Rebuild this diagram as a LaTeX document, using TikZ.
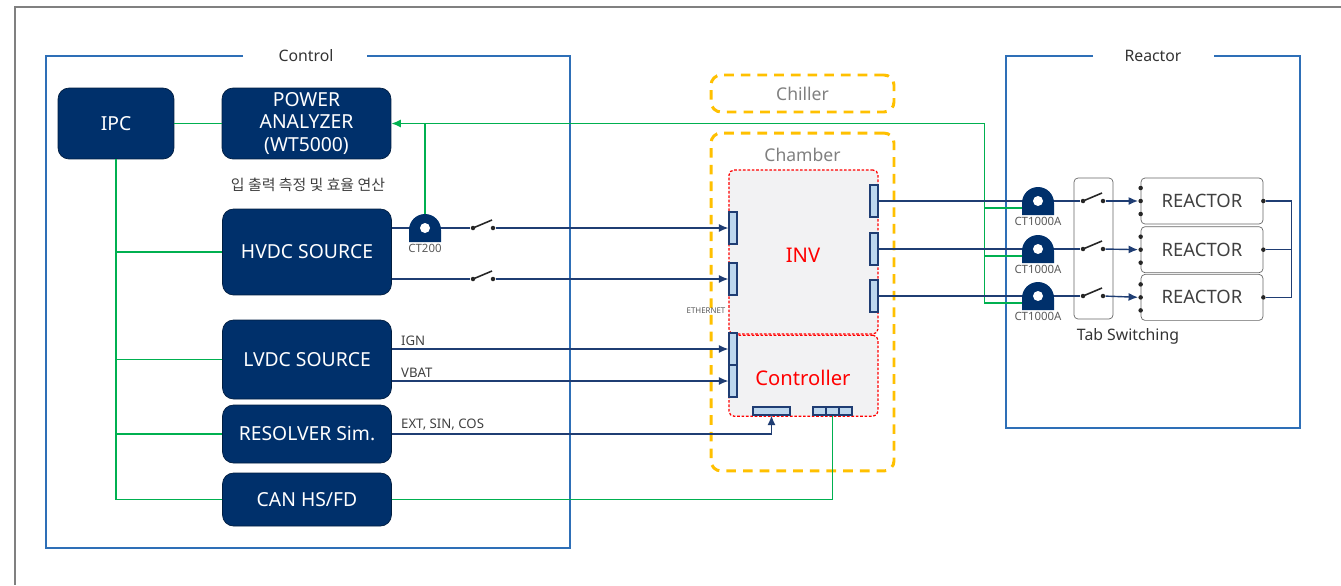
\documentclass[tikz,border=0pt]{standalone}
\usepackage{fontspec}
\setmainfont{Noto Sans}
\newfontfamily\krfont{Noto Sans CJK KR}
\usetikzlibrary{arrows.meta,positioning,calc}
\definecolor{NavyBox}{HTML}{00306B}
\definecolor{WireNavy}{HTML}{1F3D73}
\definecolor{BusGreen}{HTML}{00B050}
\definecolor{FrameBlue}{HTML}{2E6FB7}
\definecolor{PortBlue}{HTML}{BDD7EE}
\definecolor{ZoneOrange}{HTML}{FFC000}
\definecolor{LabelGrey}{HTML}{595959}
\definecolor{PanelGrey}{HTML}{F2F2F3}
% current transformer drawn at an existing coordinate
\newcommand{\ctcoil}[2]{%
  \fill[NavyBox] ($(#1)+(-16,14)$) -- ($(#1)+(-16,2)$) arc[start angle=180,end angle=0,radius=0.32cm] -- ($(#1)+(16,14)$) -- cycle;
  \fill[white] (#1) circle[radius=0.1cm];
  \node[ctlbl,anchor=north] at ($(#1)+(0,15)$) {#2};}
% open switch, dots named <name>l and <name>r
\newcommand{\knife}[2]{%
  \node[swdot] (#1l) at (#2) {};
  \node[swdot] (#1r) at ($(#1l)+(20,0)$) {};
  \draw[line width=0.9pt,black!85] (#1l.center) -- ($(#1l)+(19,-8)$);}
% terminals of a reactor
\newcommand{\reacdots}[1]{%
  \node[swdot] (#1in) at (#1.west) {};
  \node[swdot] at ($(#1.west)+(0,-13)$) {};
  \node[swdot] at ($(#1.west)+(0,13)$) {};
  \node[swdot] (#1out) at (#1.east) {};}

\begin{document}
\begin{tikzpicture}[x=0.02cm,y=-0.02cm,
  dev/.style={draw=NavyBox!60!black,fill=NavyBox,text=white,rounded corners=0.22cm,align=center,inner sep=0pt,font=\fontsize{11}{13}\selectfont},
  frame/.style={FrameBlue,line width=0.9pt},
  ttl/.style={text=black!80,font=\fontsize{9}{11}\selectfont},
  zone/.style={draw=ZoneOrange,line width=1.7pt,dash pattern=on 5.5pt off 4pt,rounded corners=0.2cm,text=black!50,font=\fontsize{10}{12}\selectfont},
  blk/.style={draw=red,fill=PanelGrey,dash pattern=on 1.5pt off 1pt,line width=0.7pt,rounded corners=0.1cm},
  blktxt/.style={text=red,font=\fontsize{11.5}{13}\selectfont},
  port/.style={draw=WireNavy,fill=PortBlue,line width=0.6pt,inner sep=0pt},
  wire/.style={WireNavy,line width=0.8pt},
  sig/.style={wire,-{Latex[length=1.9mm,width=1.6mm]}},
  bus/.style={BusGreen,line width=0.8pt},
  swdot/.style={circle,fill=black!85,inner sep=0pt,minimum size=0.09cm},
  reac/.style={draw=black!60,rounded corners=0.08cm,minimum width=2.44cm,minimum height=0.92cm,text=black!75,font=\fontsize{10.5}{12}\selectfont},
  ctlbl/.style={text=LabelGrey,inner sep=0.5pt,font=\fontsize{6.5}{7}\selectfont},
  wtxt/.style={text=black!75,inner sep=1.5pt,font=\fontsize{7.5}{9}\selectfont}]
\useasboundingbox (0,0) rectangle (1341,585);
\draw[gray,line width=1pt] (1341,7) -- (15,7) -- (15,585);

% frames
\draw[frame] (243,56) -| (46,548) -| (570,56) -- (367,56);
\node[ttl] (ctlttl) at (306,56) {Control};
\draw[frame] (1093,56) -| (1006,428) -| (1300,56) -- (1214,56);
\node[ttl] (rctttl) at (1153,56) {Reactor};

% instruments
\node[dev,minimum width=2.32cm,minimum height=1.42cm] (ipc) at (116,123.5) {IPC};
\node[dev,minimum width=3.38cm,minimum height=1.42cm] (pa) at (306.5,123.5) {POWER\\ANALYZER\\(WT5000)};
\node[text=black!75,font=\krfont\fontsize{8.5}{10}\selectfont] (patxt) at (308,185) {입 출력 측정 및 효율 연산};
\node[dev,minimum width=3.38cm,minimum height=1.72cm] (hv) at (307,252) {HVDC SOURCE};
\node[dev,minimum width=3.38cm,minimum height=1.58cm] (lv) at (307,359.5) {LVDC SOURCE};
\node[dev,minimum width=3.38cm,minimum height=1.16cm] (res) at (307,434) {RESOLVER Sim.};
\node[dev,minimum width=3.38cm,minimum height=1.06cm] (can) at (307,499.5) {CAN HS/FD};

% chiller and chamber
\node[zone,minimum width=3.66cm,minimum height=0.74cm] (chl) at (802.5,93.5) {Chiller};
\node[zone,minimum width=3.66cm,minimum height=6.76cm] (chm) at (802.5,302) {};
\node[zone,draw=none] (chmtxt) at ($(chm.north)+(0,23)$) {Chamber};
\node[blk,minimum width=2.98cm,minimum height=3.28cm] (inv) at (803.5,252) {};
\node[blk,minimum width=2.98cm,minimum height=1.62cm,anchor=north] (ctrl) at (inv.south) {};
\node[blktxt] (invtxt) at (803,255) {INV};
\node[blktxt] (ctrltxt) at (803,378) {Controller};
\node[ctlbl,font=\fontsize{4.5}{5}\selectfont] (eth) at (706,311) {ETHERNET};

% ports
\node[port,minimum width=0.16cm,minimum height=0.64cm] (p1) at (733,228) {};
\node[port,minimum width=0.16cm,minimum height=0.64cm] (p2) at (733,279) {};
\node[port,minimum width=0.16cm,minimum height=0.64cm] (p3) at (733,349) {};
\node[port,minimum width=0.16cm,minimum height=0.64cm] (p4) at (733,381) {};
\node[port,minimum width=0.16cm,minimum height=0.64cm] (p5) at (874,201) {};
\node[port,minimum width=0.16cm,minimum height=0.64cm] (p6) at (874,249) {};
\node[port,minimum width=0.16cm,minimum height=0.64cm] (p7) at (874,296) {};
\node[port,minimum width=0.74cm,minimum height=0.16cm] (p8) at (771.5,411) {};
\node[port,minimum width=0.26cm,minimum height=0.16cm] (q1) at (819.5,411) {};
\node[port,minimum width=0.26cm,minimum height=0.16cm] (q2) at (832.5,411) {};
\node[port,minimum width=0.26cm,minimum height=0.16cm] (q3) at (845.5,411) {};

% reactor side
\node[draw=black!60,rounded corners=0.08cm,minimum width=0.78cm,minimum height=2.82cm] (tab) at (1093.5,248.5) {};
\node[ttl] (tabtxt) at (1128,336) {Tab Switching};
\node[reac] (r1) at (1202,201) {REACTOR};
\node[reac,below=0.04cm of r1] (r2) {REACTOR};
\node[reac,below=0.02cm of r2] (r3) {REACTOR};
\reacdots{r1}
\reacdots{r2}
\reacdots{r3}

% switches and sensors
\knife{swa}{473,228}
\knife{swb}{473,279}
\knife{ta}{1083,201}
\knife{tb}{1083,249}
\knife{tc}{1083,296}
\coordinate (ctz) at (425,228);
\coordinate (cta) at (1038,201);
\coordinate (ctb) at (1038,249);
\coordinate (ctc) at (1038,296);
\coordinate (gtap) at ($(pa.east)+(593,0)$);

% green links
\draw[bus] (ipc.east) -- (pa.west);
\draw[bus] (ipc.south) |- (can.west);
\draw[bus] (ipc.south |- hv.west) -- (hv.west);
\draw[bus] (ipc.south |- lv.west) -- (lv.west);
\draw[bus] (ipc.south |- res.west) -- (res.west);
\draw[bus] (can.east) -| (q2.south);
\draw[bus] (ctz) -- (ctz |- pa.east);
\draw[bus,-{Latex[length=1.9mm,width=1.6mm]}] ($(cta)+(0,7)$) -| (gtap) -- (pa.east);
\draw[bus] ($(ctb)+(0,7)$) -| (gtap);
\draw[bus] ($(ctc)+(0,7)$) -| (gtap);

% power and signal lines
\draw[wire] (hv.east |- ctz) -- (swal);
\draw[sig] (swar) -- (p1.west);
\draw[wire] (hv.east |- swbl) -- (swbl);
\draw[sig] (swbr) -- (p2.west);
\draw[sig] (lv.east |- p3) -- (p3.west) node[wtxt,pos=0,anchor=south west,xshift=0.12cm]{IGN};
\draw[sig] (lv.east |- p4) -- (p4.west) node[wtxt,pos=0,anchor=south west,xshift=0.12cm]{VBAT};
\draw[sig] (res.east) -| (p8.south) node[wtxt,pos=0,anchor=south west,xshift=0.12cm]{EXT, SIN, COS};
\draw[wire] (p5.east) -- (tal);
\draw[wire] (p6.east) -- (tbl);
\draw[wire] (p7.east) -- (tcl);
\draw[sig] (tar) -- (r1in);
\draw[sig] (tbr) -- (r2in);
\draw[sig] (tcr) -- (r3in);
\coordinate (rbus) at ($(r2out)+(28,0)$);
\draw[wire] (r1out) -| (rbus) |- (r3out);
\draw[wire] (r2out) -- (rbus);

% sensors on top
\ctcoil{ctz}{CT200}
\ctcoil{cta}{CT1000A}
\ctcoil{ctb}{CT1000A}
\ctcoil{ctc}{CT1000A}
\end{tikzpicture}
\end{document}
